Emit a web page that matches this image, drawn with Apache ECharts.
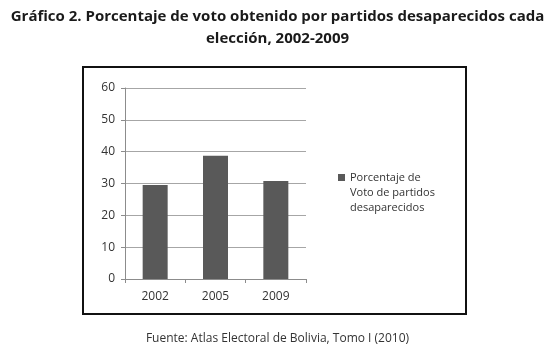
<!DOCTYPE html>
<html>
<head>
<meta charset="utf-8">
<script src="https://cdn.jsdelivr.net/npm/echarts@6/dist/echarts.min.js"></script>
<style>
  html, body { margin: 0; padding: 0; background: #fff; }
  #chart { width: 555px; height: 353px; }
</style>
</head>
<body>
<div id="chart"></div>
<script>
// datos
var years = ['2002', '2005', '2009'];
var votos = [29.5, 38.7, 30.8];
var yTicks = [0, 10, 20, 30, 40, 50, 60];

var chart = echarts.init(document.getElementById('chart'));

var option = {
  animation: false,
  title: [
    {
      text: 'Gráfico 2. Porcentaje de voto obtenido por partidos desaparecidos cada\nelección, 2002-2009',
      left: 'center',
      top: 1,
      textStyle: { fontFamily: 'Open Sans', fontWeight: 'bold', fontSize: 15, color: '#1a1a1a', lineHeight: 22 }
    },
    {
      text: 'Fuente: Atlas Electoral de Bolivia, Tomo I (2010)',
      left: 'center',
      top: 328,
      textStyle: { fontFamily: 'Open Sans', fontWeight: 'normal', fontSize: 12, color: '#333' }
    }
  ],
  graphic: [
    {
      type: 'rect',
      shape: { x: 83, y: 67, width: 383, height: 247 },
      style: { fill: 'none', stroke: '#111', lineWidth: 2 }
    }
  ],
  legend: {
    data: ['Porcentaje de Voto de partidos desaparecidos'],
    icon: 'rect',
    left: 333,
    top: 135,
    itemWidth: 7,
    itemHeight: 7,
    itemGap: 4,
    formatter: function () {
      return '{p| }\n{t|Porcentaje de}\n{t|Voto de partidos}\n{t|desaparecidos}';
    },
    textStyle: {
      fontFamily: 'Open Sans', fontSize: 11, color: '#333',
      rich: {
        p: { height: 30, lineHeight: 30, fontSize: 1 },
        t: { fontFamily: 'Open Sans', fontSize: 11, color: '#333', lineHeight: 15 }
      }
    }
  },
  grid: { left: 125, top: 88, width: 181, height: 191 },
  xAxis: {
    type: 'category',
    data: years,
    axisLine: { lineStyle: { color: '#8c8c8c', width: 1 } },
    axisTick: { show: true, inside: false, length: 4, lineStyle: { color: '#8c8c8c' } },
    axisLabel: { fontFamily: 'Open Sans', fontSize: 12, color: '#333', margin: 12 }
  },
  yAxis: {
    type: 'value',
    min: 0, max: 60, interval: 10,
    axisLine: { show: true, lineStyle: { color: '#8c8c8c', width: 1 } },
    axisTick: { show: true, length: 4, lineStyle: { color: '#8c8c8c' } },
    axisLabel: {
      fontFamily: 'Open Sans', fontSize: 12, color: '#333', margin: 10,
      formatter: function (v) { return yTicks.indexOf(v) >= 0 ? String(v) : ''; }
    },
    splitLine: { show: true, lineStyle: { color: '#a6a6a6', width: 1 } }
  },
  series: [
    {
      name: 'Porcentaje de Voto de partidos desaparecidos',
      type: 'bar',
      data: votos,
      barWidth: 25,
      itemStyle: { color: '#595959' }
    }
  ]
};

chart.setOption(option);
</script>
</body>
</html>
